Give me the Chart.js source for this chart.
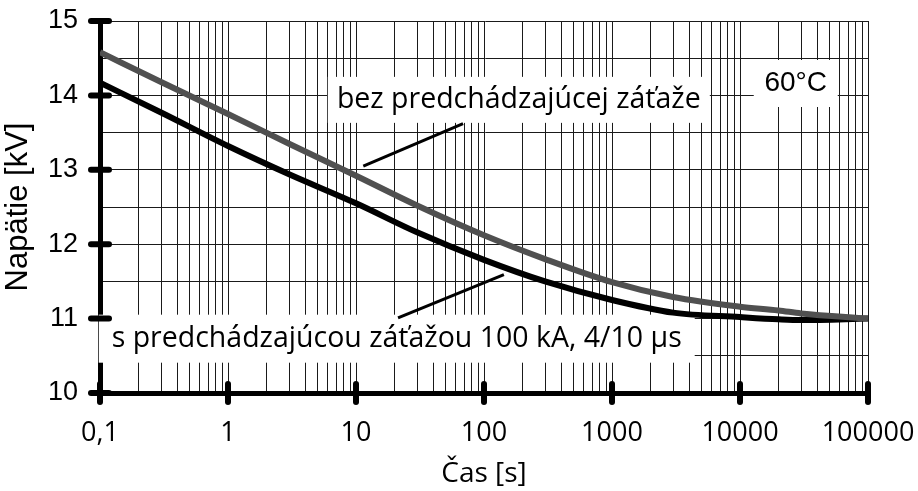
<!DOCTYPE html>
<html>
<head>
<meta charset="utf-8">
<script src="https://cdn.jsdelivr.net/npm/chart.js@4/dist/chart.umd.min.js"></script>
<style>
  html, body { margin: 0; padding: 0; background: #fff; }
  #wrap { width: 918px; height: 491px; position: relative; }
</style>
</head>
<body>
<div id="wrap"><canvas id="c"></canvas></div>
<script>
// time axis [s], log scale
const times = [0.1, 0.3, 1, 3, 10, 30, 100, 300, 1000, 3000, 10000, 20000, 30000, 100000];
// curve without previous load (grey)
const bezZataze = [14.58, 14.18, 13.75, 13.35, 12.92, 12.52, 12.12, 11.80, 11.49, 11.29, 11.16, 11.11, 11.07, 11.00];
// curve with previous load 100 kA, 4/10 us (black)
const sZatazou = [14.17, 13.77, 13.32, 12.94, 12.55, 12.16, 11.79, 11.50, 11.25, 11.08, 11.02, 10.99, 10.98, 11.00];

const xDecades = [0.1, 1, 10, 100, 1000, 10000, 100000];
const xTickLabels = ['0,1', '1', '10', '100', '1000', '10000', '100000'];
const yGrid = [10, 10.5, 11, 11.5, 12, 12.5, 13, 13.5, 14, 14.5, 15];
const yMajor = [10, 11, 12, 13, 14, 15];
const yTickLabels = ['10', '11', '12', '13', '14', '15'];

// minor grid lines 1..9 per decade
const xGrid = [];
xDecades.slice(0, -1).forEach(d => {
    for (let m = 1; m <= 9; m++) xGrid.push(+(d * m).toPrecision(3));
});
xGrid.push(100000);

const labelFont = '"Open Sans", "DejaVu Sans", sans-serif';
const numFont = '"Liberation Sans", Arial, sans-serif';

// text boxes placed in data coordinates (centre), size in px
const notes = [
    { text: 'bez predchádzajúcej záťaže', x: 187, y: 13.94, w: 382, h: 46, font: '28.5px ' + labelFont },
    { text: 's predchádzajúcou záťažou 100 kA, 4/10 µs', x: 20.8, y: 10.73, w: 596, h: 48, font: '28.5px ' + labelFont },
    { text: '60°C', x: 27260, y: 14.16, w: 84, h: 47, font: '28px ' + numFont }
];
const leaders = [
    { x1: 11.4, y1: 13.05, x2: 68.6, y2: 13.62 },
    { x1: 21.3, y1: 11.01, x2: 143, y2: 11.59 }
];

const notesPlugin = {
    id: 'notes',
    beforeDatasetsDraw(chart) {
        const { ctx, scales: { x, y } } = chart;
        ctx.save();
        notes.forEach(n => {
            const cx = x.getPixelForValue(n.x);
            const cy = y.getPixelForValue(n.y);
            ctx.fillStyle = '#fff';
            ctx.fillRect(cx - n.w / 2, cy - n.h / 2, n.w, n.h);
            ctx.fillStyle = '#000';
            ctx.font = n.font;
            ctx.textAlign = 'center';
            ctx.textBaseline = 'middle';
            ctx.fillText(n.text, cx, cy);
        });
        ctx.restore();
    },
    afterDatasetsDraw(chart) {
        const { ctx, scales: { x, y } } = chart;
        ctx.save();
        ctx.strokeStyle = '#000';
        ctx.lineWidth = 3;
        leaders.forEach(l => {
            ctx.beginPath();
            ctx.moveTo(x.getPixelForValue(l.x1), y.getPixelForValue(l.y1));
            ctx.lineTo(x.getPixelForValue(l.x2), y.getPixelForValue(l.y2));
            ctx.stroke();
        });
        // thick tick marks across the axes
        ctx.lineWidth = 6;
        ctx.lineCap = 'round';
        const area = chart.chartArea;
        xDecades.forEach(d => {
            const px = x.getPixelForValue(d);
            ctx.beginPath();
            ctx.moveTo(px, area.bottom - 9);
            ctx.lineTo(px, area.bottom + 9);
            ctx.stroke();
        });
        yMajor.forEach(v => {
            const py = y.getPixelForValue(v);
            ctx.beginPath();
            ctx.moveTo(area.left - 9, py);
            ctx.lineTo(area.left + 9, py);
            ctx.stroke();
        });
        ctx.restore();
    }
};

new Chart(document.getElementById('c'), {
    type: 'line',
    data: {
        datasets: [{
            label: 'bez predchádzajúcej záťaže',
            data: times.map((t, i) => ({ x: t, y: bezZataze[i] })),
            borderColor: '#505050',
            borderWidth: 6,
            pointRadius: 0,
            cubicInterpolationMode: 'monotone'
        }, {
            label: 's predchádzajúcou záťažou',
            data: times.map((t, i) => ({ x: t, y: sZatazou[i] })),
            borderColor: '#000',
            borderWidth: 6,
            pointRadius: 0,
            cubicInterpolationMode: 'monotone'
        }]
    },
    options: {
        responsive: true,
        maintainAspectRatio: false,
        animation: false,
        layout: { padding: { top: 21, right: 50, left: 0, bottom: 0 } },
        plugins: {
            legend: { display: false },
            tooltip: { enabled: false }
        },
        scales: {
            x: {
                type: 'logarithmic',
                min: 0.1,
                max: 100000,
                afterBuildTicks: s => { s.ticks = xGrid.map(v => ({ value: v })); },
                afterFit: s => { s.height = 98; s.paddingLeft = 0; s.paddingRight = 0; },
                ticks: {
                    autoSkip: false,
                    maxRotation: 0,
                    padding: 24,
                    color: '#000',
                    font: { family: labelFont, size: 27 },
                    callback: v => {
                        const i = xDecades.indexOf(+(+v).toPrecision(3));
                        return i >= 0 ? xTickLabels[i] : '';
                    }
                },
                grid: { color: '#1a1a1a', lineWidth: 1, drawTicks: false },
                border: { color: '#000', width: 5 },
                title: {
                    display: true,
                    text: 'Čas [s]',
                    color: '#000',
                    font: { family: labelFont, size: 28 },
                    padding: { top: 0, bottom: 0 }
                }
            },
            y: {
                min: 10,
                max: 15,
                afterBuildTicks: s => { s.ticks = yGrid.map(v => ({ value: v })); },
                afterFit: s => { s.width = 100; s.paddingTop = 0; s.paddingBottom = 0; },
                ticks: {
                    padding: 22,
                    color: '#000',
                    font: { family: numFont, size: 27 },
                    callback: v => {
                        const i = yMajor.indexOf(v);
                        return i >= 0 ? yTickLabels[i] : '';
                    }
                },
                grid: { color: '#1a1a1a', lineWidth: 1, drawTicks: false },
                border: { color: '#000', width: 5 },
                title: {
                    display: true,
                    text: 'Napätie [kV]',
                    color: '#000',
                    font: { family: numFont, size: 31 },
                    padding: { top: 0, bottom: 0 }
                }
            }
        }
    },
    plugins: [notesPlugin]
});
</script>
</body>
</html>
